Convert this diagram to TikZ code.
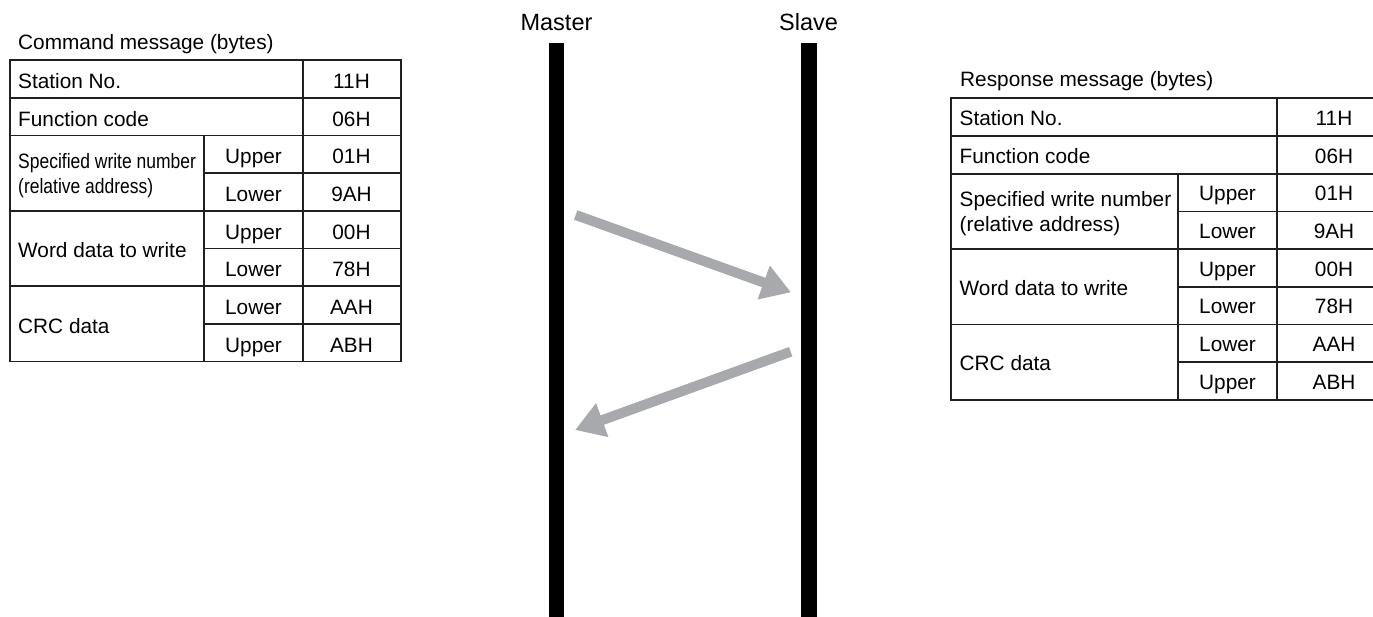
\documentclass[tikz,border=0pt]{standalone}
\usepackage{fontspec}
\setmainfont{Liberation Sans}
\usetikzlibrary{arrows.meta}
\definecolor{arrowgray}{RGB}{167,169,172}
\definecolor{ruleblack}{RGB}{35,31,32}
\tikzset{
  tabline/.style = {draw = ruleblack, line width = 1.7pt},
  cell/.style = {anchor = west, inner sep = 0pt, text height = 15pt, text depth = 0pt},
  cellc/.style = {cell, anchor = center},
  cellml/.style = {anchor = west, inner sep = 0pt, align = left},
  title/.style = {anchor = base west, inner sep = 0pt},
  party/.style = {anchor = base, inner sep = 0pt, font = \fontsize{23.5}{28}\selectfont},
  msgarrow/.style = {draw = arrowgray, line width = 10pt, -{Triangle[length = 29pt, width = 34pt]}}
}
\newcommand{\squeeze}[1]{\scalebox{0.84}[1]{#1}}

\begin{document}
\begin{tikzpicture}[x = 1pt, y = -1pt, font = \fontsize{20.8}{25}\selectfont]
\useasboundingbox (0,0) rectangle (1373,617);

% command message
\node [title] (cmd-title) at (18,50) {Command message (bytes)};
\draw [tabline] (10,60) rectangle (401,361.6);
\draw [tabline] (303,60) -- (303,361.6);
\draw [tabline] (204,135.4) -- (204,361.6);
\draw [tabline] (10,97.7) -- (401,97.7);
\draw [tabline] (10,135.4) -- (401,135.4);
\draw [tabline] (10,210.8) -- (401,210.8);
\draw [tabline] (10,286.2) -- (401,286.2);
\draw [tabline] (204,173.1) -- (401,173.1);
\draw [tabline] (204,248.5) -- (401,248.5);
\draw [tabline] (204,323.9) -- (401,323.9);
\node [cell] (cmd-stn) at (18,80.85) {Station No.};
\node [cell] (cmd-fc) at (18,118.55) {Function code};
\node [cellml] (cmd-spec) at (18,175.4) {\squeeze{Specified write number}\\\squeeze{(relative address)}};
\node [cell] (cmd-word) at (18,250.5) {Word data to write};
\node [cell] (cmd-crc) at (18,325.9) {CRC data};
\node [cellc] (cmd-up1) at (253.5,156.25) {Upper};
\node [cellc] (cmd-lo1) at (253.5,193.95) {Lower};
\node [cellc] (cmd-up2) at (253.5,231.65) {Upper};
\node [cellc] (cmd-lo2) at (253.5,269.35) {Lower};
\node [cellc] (cmd-lo3) at (253.5,307.05) {Lower};
\node [cellc] (cmd-up3) at (253.5,344.75) {Upper};
\node [cellc] (cmd-v1) at (351.5,80.85) {11H};
\node [cellc] (cmd-v2) at (351.5,118.55) {06H};
\node [cellc] (cmd-v3) at (351.5,156.25) {01H};
\node [cellc] (cmd-v4) at (351.5,193.95) {9AH};
\node [cellc] (cmd-v5) at (351.5,231.65) {00H};
\node [cellc] (cmd-v6) at (351.5,269.35) {78H};
\node [cellc] (cmd-v7) at (351.5,307.05) {AAH};
\node [cellc] (cmd-v8) at (351.5,344.75) {ABH};

% response message
\node [title] (rsp-title) at (960,86.7) {Response message (bytes)};
\draw [tabline] (951,98.3) rectangle (1391,399.9);
\draw [tabline] (1277,98.3) -- (1277,399.9);
\draw [tabline] (1178,173.7) -- (1178,399.9);
\draw [tabline] (951,136) -- (1391,136);
\draw [tabline] (951,173.7) -- (1391,173.7);
\draw [tabline] (951,249.1) -- (1391,249.1);
\draw [tabline] (951,324.5) -- (1391,324.5);
\draw [tabline] (1178,211.4) -- (1391,211.4);
\draw [tabline] (1178,286.8) -- (1391,286.8);
\draw [tabline] (1178,362.2) -- (1391,362.2);
\node [cell] (rsp-stn) at (959.5,117.85) {Station No.};
\node [cell] (rsp-fc) at (959.5,155.55) {Function code};
\node [cellml] (rsp-spec) at (959.5,213.8) {Specified write number\\(relative address)};
\node [cell] (rsp-word) at (959.5,287.8) {Word data to write};
\node [cell] (rsp-crc) at (959.5,363.2) {CRC data};
\node [cellc] (rsp-up1) at (1227.5,193.25) {Upper};
\node [cellc] (rsp-lo1) at (1227.5,230.95) {Lower};
\node [cellc] (rsp-up2) at (1227.5,268.65) {Upper};
\node [cellc] (rsp-lo2) at (1227.5,306.35) {Lower};
\node [cellc] (rsp-lo3) at (1227.5,344.05) {Lower};
\node [cellc] (rsp-up3) at (1227.5,381.75) {Upper};
\node [cellc] (rsp-v1) at (1334,117.85) {11H};
\node [cellc] (rsp-v2) at (1334,155.55) {06H};
\node [cellc] (rsp-v3) at (1334,193.25) {01H};
\node [cellc] (rsp-v4) at (1334,230.95) {9AH};
\node [cellc] (rsp-v5) at (1334,268.65) {00H};
\node [cellc] (rsp-v6) at (1334,306.35) {78H};
\node [cellc] (rsp-v7) at (1334,344.05) {AAH};
\node [cellc] (rsp-v8) at (1334,381.75) {ABH};

% master and slave
\node [party] (master) at (556.5,30.7) {Master};
\node [party] (slave) at (808.5,30.7) {Slave};
\fill [black] (549,43.3) rectangle (564.3,617);
\fill [black] (801,43.3) rectangle (816.7,617);

\coordinate (cmd-out) at (575.7,215);
\coordinate (cmd-in) at (791,292.3);
\coordinate (rsp-out) at (790.7,351.7);
\coordinate (rsp-in) at (575,430);
\draw [msgarrow] (cmd-out) -- (cmd-in);
\draw [msgarrow] (rsp-out) -- (rsp-in);
\end{tikzpicture}
\end{document}
